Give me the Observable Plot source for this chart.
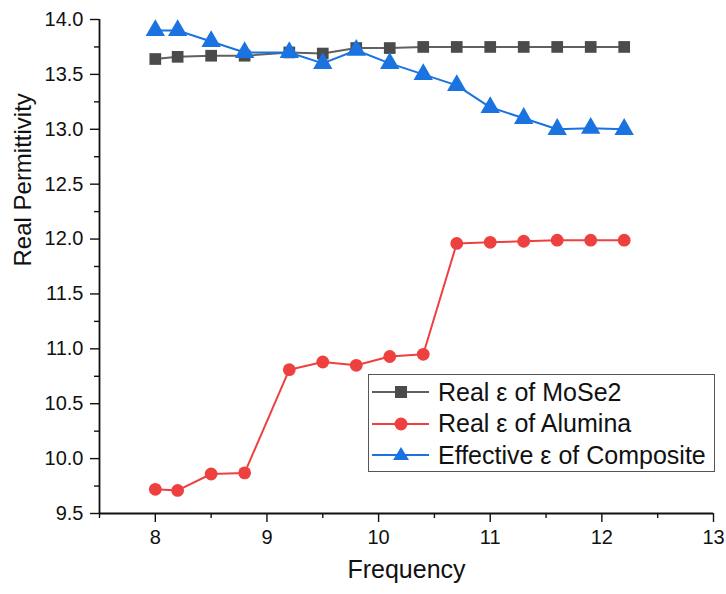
<!DOCTYPE html>
<html><head><meta charset="utf-8">
<script src="https://cdn.jsdelivr.net/npm/d3@7"></script>
<script src="https://cdn.jsdelivr.net/npm/@observablehq/plot@0.6"></script>
<style>
body{margin:0;background:#fff;font-family:"Liberation Sans",Arial,sans-serif;}
#wrap{position:relative;width:726px;height:594px;}
#legend{position:absolute;left:368px;top:374px;width:347px;height:98px;border:1.3px solid #555;background:#fff;box-sizing:border-box;font-size:25px;color:#111;}
#legend .row{position:absolute;left:0;height:30px;display:flex;align-items:center;white-space:nowrap;}
#legend svg{display:block;}
</style>
</head><body>
<div id="wrap"><div id="chart"></div><div id="legend"></div></div>
<script>
const frequency = [8, 8.2, 8.5, 8.8, 9.2, 9.5, 9.8, 10.1, 10.4, 10.7, 11, 11.3, 11.6, 11.9, 12.2];
const mose2 = [13.64, 13.66, 13.67, 13.67, 13.70, 13.69, 13.74, 13.74, 13.75, 13.75, 13.75, 13.75, 13.75, 13.75, 13.75];
const alumina = [9.72, 9.71, 9.86, 9.87, 10.81, 10.88, 10.85, 10.93, 10.95, 11.96, 11.97, 11.98, 11.99, 11.99, 11.99];
const composite = [13.9, 13.9, 13.8, 13.7, 13.7, 13.6, 13.72, 13.6, 13.5, 13.4, 13.2, 13.1, 13.0, 13.01, 13.0];
const seriesNames = ["Real ε of MoSe2", "Real ε of Alumina", "Effective ε of Composite"];
const seriesColors = ["#4b4b4b", "#ef4040", "#1a73e0"];
const lineColors = ["#606060", "#ef4040", "#1a73e0"];
const seriesSymbols = ["square", "circle", "triangle"];
const yTicks = [9.5, 10.0, 10.5, 11.0, 11.5, 12.0, 12.5, 13.0, 13.5, 14.0];
const xTicks = [8, 9, 10, 11, 12, 13];

const allSeries = [mose2, alumina, composite];
const data = [];
allSeries.forEach((vals, s) => vals.forEach((v, i) => data.push({x: frequency[i], y: v, s: seriesNames[s]})));

const yMinor = d3.range(9.75, 14, 0.5);
const xMinor = [7.5, 8.5, 9.5, 10.5, 11.5, 12.5];

const marks = [
  Plot.axisY(yTicks, {tickSize: 9, text: null, stroke: "#111", strokeWidth: 1.4, label: null}),
  Plot.axisY(yMinor, {tickSize: 5, text: null, stroke: "#111", strokeWidth: 1.4, label: null}),
  Plot.axisX(xTicks, {tickSize: 9, text: null, stroke: "#111", strokeWidth: 1.4, label: null}),
  Plot.axisX(xMinor, {tickSize: 5, text: null, stroke: "#111", strokeWidth: 1.4, label: null}),
  Plot.text(yTicks, {x: 7.5, y: d => d, text: d => d.toFixed(1), textAnchor: "end", dx: -16, fontSize: 20, fill: "#111"}),
  Plot.text(xTicks, {x: d => d, y: 9.5, text: d => String(d), lineAnchor: "top", dy: 16, fontSize: 20, fill: "#111"}),
  Plot.ruleX([7.5], {stroke: "#111", strokeWidth: 1.8}),
  Plot.ruleY([9.5], {stroke: "#111", strokeWidth: 1.8}),
];
seriesNames.forEach((name, s) => {
  const d = data.filter(p => p.s === name);
  marks.push(Plot.line(d, {x: "x", y: "y", stroke: lineColors[s], strokeWidth: 2}));
});
seriesNames.forEach((name, s) => {
  const d = data.filter(p => p.s === name);
  marks.push(Plot.dot(d, {x: "x", y: "y", symbol: () => seriesSymbols[s], fill: seriesColors[s], stroke: "none",
    r: s === 0 ? 6.6 : s === 1 ? 6.4 : 7.2}));
});
marks.push(Plot.text(["Real Permittivity"], {frameAnchor: "left", dx: -76, rotate: -90, fontSize: 24, fill: "#111"}));
marks.push(Plot.text(["Frequency"], {frameAnchor: "bottom", dy: 64, fontSize: 25, fill: "#111"}));

const chart = Plot.plot({
  width: 726, height: 594,
  marginLeft: 99, marginRight: 13, marginTop: 19, marginBottom: 81,
  style: {fontFamily: "'Liberation Sans', Arial, sans-serif", background: "#fff", overflow: "visible"},
  x: {domain: [7.5, 13]},
  y: {domain: [9.5, 14]},
  symbol: {type: "identity"},
  marks
});
document.getElementById("chart").appendChild(chart);

const legend = document.getElementById("legend");
const symSvg = {
  square: '<rect x="23" y="4" width="12" height="12" fill="C"/>',
  circle: '<circle cx="29" cy="10" r="6.5" fill="C"/>',
  triangle: '<path d="M29,2 L37,15 L21,15 Z" fill="C"/>'
};
seriesNames.forEach((name, s) => {
  const row = document.createElement("div");
  row.className = "row";
  row.style.top = (2 + s * 31.5) + "px";
  row.innerHTML = `<svg width="58" height="20" style="margin-left:3px;margin-right:8px"><line x1="0" y1="10" x2="57" y2="10" stroke="${lineColors[s]}" stroke-width="2"/>${symSvg[seriesSymbols[s]].replace("C", seriesColors[s])}</svg><span>${name}</span>`;
  legend.appendChild(row);
});
</script>
</body></html>
